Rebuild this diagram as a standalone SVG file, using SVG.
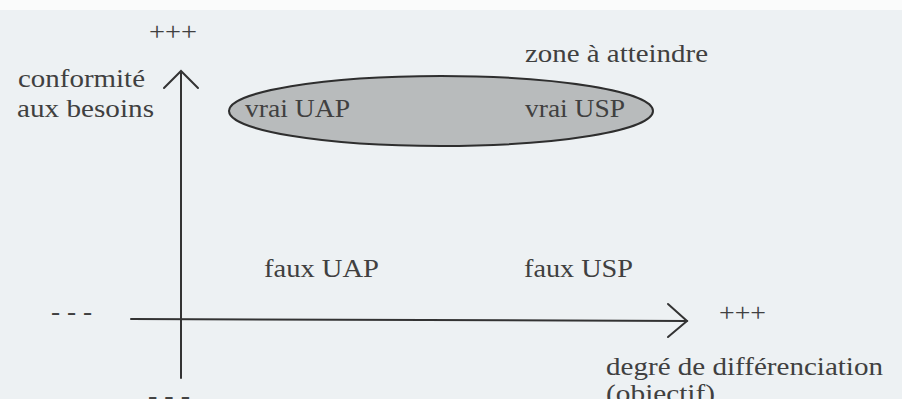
<svg xmlns="http://www.w3.org/2000/svg" width="902" height="399" viewBox="0 0 902 399">
  <style>
    .t { font-family: "Liberation Serif", "Times New Roman", serif; font-size: 26px; fill: #404040; }
    .ax { stroke: #333; stroke-width: 2; fill: none; stroke-linecap: round; stroke-linejoin: miter; }
  </style>
  <rect x="0" y="0" width="902" height="399" fill="#edf1f3"/>
  <rect x="0" y="0" width="902" height="10" fill="#fafbfb"/>

  <g id="zone">
    <ellipse cx="441" cy="111" rx="212" ry="35" fill="#b8bbbc" stroke="#2e2e2e" stroke-width="2"/>
    <text class="t" x="525" y="62" textLength="183" lengthAdjust="spacingAndGlyphs">zone à atteindre</text>
  </g>
  <g id="vrai-uap">
    <text class="t" x="245" y="117" textLength="105" lengthAdjust="spacingAndGlyphs">vrai UAP</text>
  </g>
  <g id="vrai-usp">
    <text class="t" x="525" y="117" textLength="100" lengthAdjust="spacingAndGlyphs">vrai USP</text>
  </g>
  <g id="faux-uap">
    <text class="t" x="264" y="277" textLength="115" lengthAdjust="spacingAndGlyphs">faux UAP</text>
  </g>
  <g id="faux-usp">
    <text class="t" x="524" y="277" textLength="109" lengthAdjust="spacingAndGlyphs">faux USP</text>
  </g>

  <g id="connectors">
    <g id="y-axis">
      <line class="ax" x1="181" y1="73" x2="181" y2="378"/>
      <polyline class="ax" points="164,88 181,71 198,88"/>
    </g>
    <g id="x-axis">
      <line class="ax" x1="131" y1="319" x2="687" y2="321"/>
      <polyline class="ax" points="668,304 687,321 668,337"/>
    </g>
  </g>

  <g id="y-labels">
    <text class="t" x="149" y="40" textLength="48" lengthAdjust="spacingAndGlyphs">+++</text>
    <text class="t" x="18" y="87" textLength="127" lengthAdjust="spacingAndGlyphs">conformité</text>
    <text class="t" x="17" y="117" textLength="137" lengthAdjust="spacingAndGlyphs">aux besoins</text>
    <text class="t" x="148" y="404" textLength="42" lengthAdjust="spacingAndGlyphs">- - -</text>
  </g>
  <g id="x-labels">
    <text class="t" x="51" y="320" textLength="41" lengthAdjust="spacingAndGlyphs">- - -</text>
    <text class="t" x="719" y="321" textLength="47" lengthAdjust="spacingAndGlyphs">+++</text>
    <text class="t" x="606" y="375" textLength="277" lengthAdjust="spacingAndGlyphs">degré de différenciation</text>
    <text class="t" x="606" y="402" textLength="109" lengthAdjust="spacingAndGlyphs">(objectif)</text>
  </g>
</svg>
